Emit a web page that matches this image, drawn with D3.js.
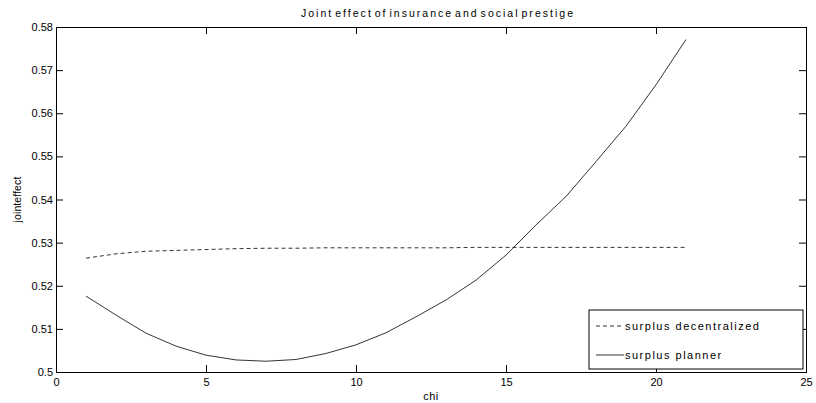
<!DOCTYPE html>
<html>
<head>
<meta charset="utf-8">
<script src="https://cdn.jsdelivr.net/npm/d3@7"></script>
<style>
  body { margin: 0; background: #fff; }
  svg text { font-family: "Liberation Sans", Arial, sans-serif; fill: #000; }
</style>
</head>
<body>
<div id="chart"></div>
<script>
// chi values and the two series
var chi = [1, 2, 3, 4, 5, 6, 7, 8, 9, 10, 11, 12, 13, 14, 15, 16, 17, 18, 19, 20, 21];
var decentralized = [0.5264, 0.5274, 0.5280, 0.5282, 0.5284, 0.5286, 0.5287, 0.5287, 0.5288, 0.5288, 0.5288,
                     0.5288, 0.5288, 0.5289, 0.5289, 0.5289, 0.5289, 0.5289, 0.5289, 0.5289, 0.5289];
var planner = [0.5176, 0.5132, 0.5090, 0.5060, 0.5039, 0.5028, 0.5025, 0.5029, 0.5043, 0.5063, 0.5091,
               0.5128, 0.5167, 0.5213, 0.5271, 0.5341, 0.5407, 0.5488, 0.5570, 0.5666, 0.5771];
var xTicks = [0, 5, 10, 15, 20, 25];
var yTicks = [0.5, 0.51, 0.52, 0.53, 0.54, 0.55, 0.56, 0.57, 0.58];
var seriesNames = ["surplus decentralized", "surplus planner"];

var width = 816, height = 403;
var margin = {top: 27, right: 10, bottom: 31, left: 56};
var w = width - margin.left - margin.right,
    h = height - margin.top - margin.bottom;

var svg = d3.select("#chart").append("svg")
  .attr("width", width).attr("height", height);

var g = svg.append("g")
  .attr("transform", "translate(" + margin.left + "," + margin.top + ")");

var x = d3.scaleLinear().domain([0, 25]).range([0, w]);
var y = d3.scaleLinear().domain([0.5, 0.58]).range([h, 0]);

// axes, matlab style: ticks pointing in, mirrored on top and right
var fmtY = function(d) { return d3.format(".2f")(d).replace(/0$/, "").replace(/\.$/, ""); };

var xAxis = g.append("g").attr("transform", "translate(0," + h + ")")
  .call(d3.axisBottom(x).tickValues(xTicks).tickSize(-7).tickPadding(10).tickFormat(d3.format("d")));
var yAxis = g.append("g")
  .call(d3.axisLeft(y).tickValues(yTicks).tickSize(-7).tickPadding(10).tickFormat(fmtY));
var xTop = g.append("g")
  .call(d3.axisTop(x).tickValues(xTicks).tickSize(-7).tickFormat(""));
var yRight = g.append("g").attr("transform", "translate(" + w + ",0)")
  .call(d3.axisRight(y).tickValues(yTicks).tickSize(-7).tickFormat(""));

[xAxis, yAxis, xTop, yRight].forEach(function(a) {
  a.select(".domain").attr("stroke", "#000").attr("stroke-width", 1);
  a.selectAll(".tick line").attr("stroke", "#000");
  a.selectAll("text").attr("font-size", 11).style("font-family", "Liberation Sans, Arial, sans-serif");
});
yAxis.selectAll("text").attr("x", -3);
xAxis.selectAll("text").attr("y", 6);

// lines
var line = function(vals) {
  return d3.line()
    .x(function(d, i) { return x(chi[i]); })
    .y(function(d) { return y(d); })(vals);
};

g.append("path")
  .attr("d", line(decentralized))
  .attr("fill", "none").attr("stroke", "#000").attr("stroke-width", 0.8)
  .attr("stroke-dasharray", "4,3");

g.append("path")
  .attr("d", line(planner))
  .attr("fill", "none").attr("stroke", "#000").attr("stroke-width", 0.8);

// title and labels
svg.append("text")
  .attr("x", 301).attr("y", 17)
  .attr("font-size", 10.5)
  .attr("textLength", 272).attr("lengthAdjust", "spacing")
  .style("word-spacing", "-3px")
  .text("Joint effect of insurance and social prestige");

svg.append("text")
  .attr("x", margin.left + w / 2).attr("y", 400)
  .attr("text-anchor", "middle").attr("font-size", 11)
  .style("letter-spacing", "0.4px")
  .text("chi");

svg.append("text")
  .attr("transform", "translate(21," + (margin.top + h / 2) + ") rotate(-90)")
  .attr("text-anchor", "middle").attr("font-size", 10.5)
  .style("letter-spacing", "0.1px")
  .text("jointeffect");

// legend
var legend = svg.append("g").attr("transform", "translate(589,310)");
legend.append("rect")
  .attr("width", 214).attr("height", 59)
  .attr("fill", "#fff").attr("stroke", "#000").attr("stroke-width", 1);

var rows = legend.selectAll(".row").data(seriesNames).enter()
  .append("g").attr("class", "row")
  .attr("transform", function(d, i) { return "translate(0," + (16 + i * 29) + ")"; });

rows.append("line")
  .attr("x1", 7).attr("x2", 35)
  .attr("stroke", "#000").attr("stroke-width", 0.8)
  .attr("stroke-dasharray", function(d, i) { return i === 0 ? "4,3" : null; });

rows.append("text")
  .attr("x", 36).attr("y", 4)
  .attr("font-size", 11)
  .style("letter-spacing", "1.5px")
  .text(function(d) { return d; });
</script>
</body>
</html>
